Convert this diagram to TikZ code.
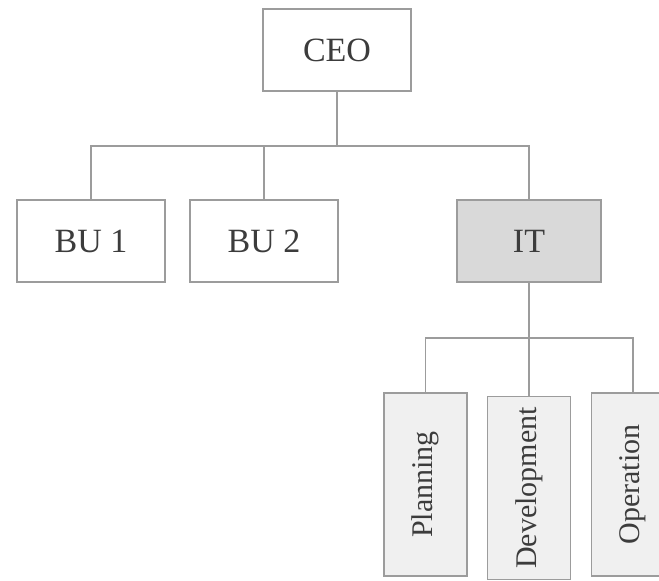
\documentclass[tikz,border=0pt]{standalone}
\usepackage{fontspec}
\setmainfont{Liberation Serif}
\definecolor{linegray}{HTML}{9C9C9C}
\definecolor{itfill}{HTML}{D9D9D9}
\definecolor{subfill}{HTML}{F0F0F0}
\definecolor{txt}{HTML}{3C3C3C}
\tikzset{
  unitbox/.style={draw=linegray, line width=1.4pt, fill=white, inner sep=0pt,
    minimum width=148pt, minimum height=82pt, text=txt,
    font=\fontsize{34}{40}\selectfont},
  itbox/.style={unitbox, fill=itfill, minimum width=144pt},
  subbox/.style={draw=linegray, line width=1.4pt, fill=subfill, inner sep=0pt,
    minimum width=183pt, minimum height=83pt, rotate=90, text=txt,
    font=\fontsize{30}{36}\selectfont},
  conn/.style={draw=linegray, line width=1.6pt}
}
\begin{document}
\begin{tikzpicture}[x=1pt,y=-1pt]
\useasboundingbox (0,0) rectangle (659,581);
\clip (0,0) rectangle (659,581);
\fill[white] (0,0) rectangle (659,581);
\node[unitbox] (ceo) at (337,50) {CEO};
\node[unitbox] (bu1) at (91,241) {BU 1};
\node[unitbox] (bu2) at (264,241) {BU 2};
\node[itbox] (it) at (529,241) {IT};
\node[subbox] (plan) at (425.5,484.5) {Planning};
\node[subbox] (dev) at (529,488) {Development};
\node[subbox] (oper) at (633,484.5) {Operation};
\coordinate (top) at (337,146);
\coordinate (sub) at (529,338);
\draw[conn] (ceo.south) -- (top);
\draw[conn] (bu1.north) |- (top);
\draw[conn] (bu2.north) |- (top);
\draw[conn] (it.north) |- (top);
\draw[conn] (it.south) -- (dev.east);
\draw[conn] (plan.east) |- (sub);
\draw[conn] (oper.east) |- (sub);
\end{tikzpicture}
\end{document}
